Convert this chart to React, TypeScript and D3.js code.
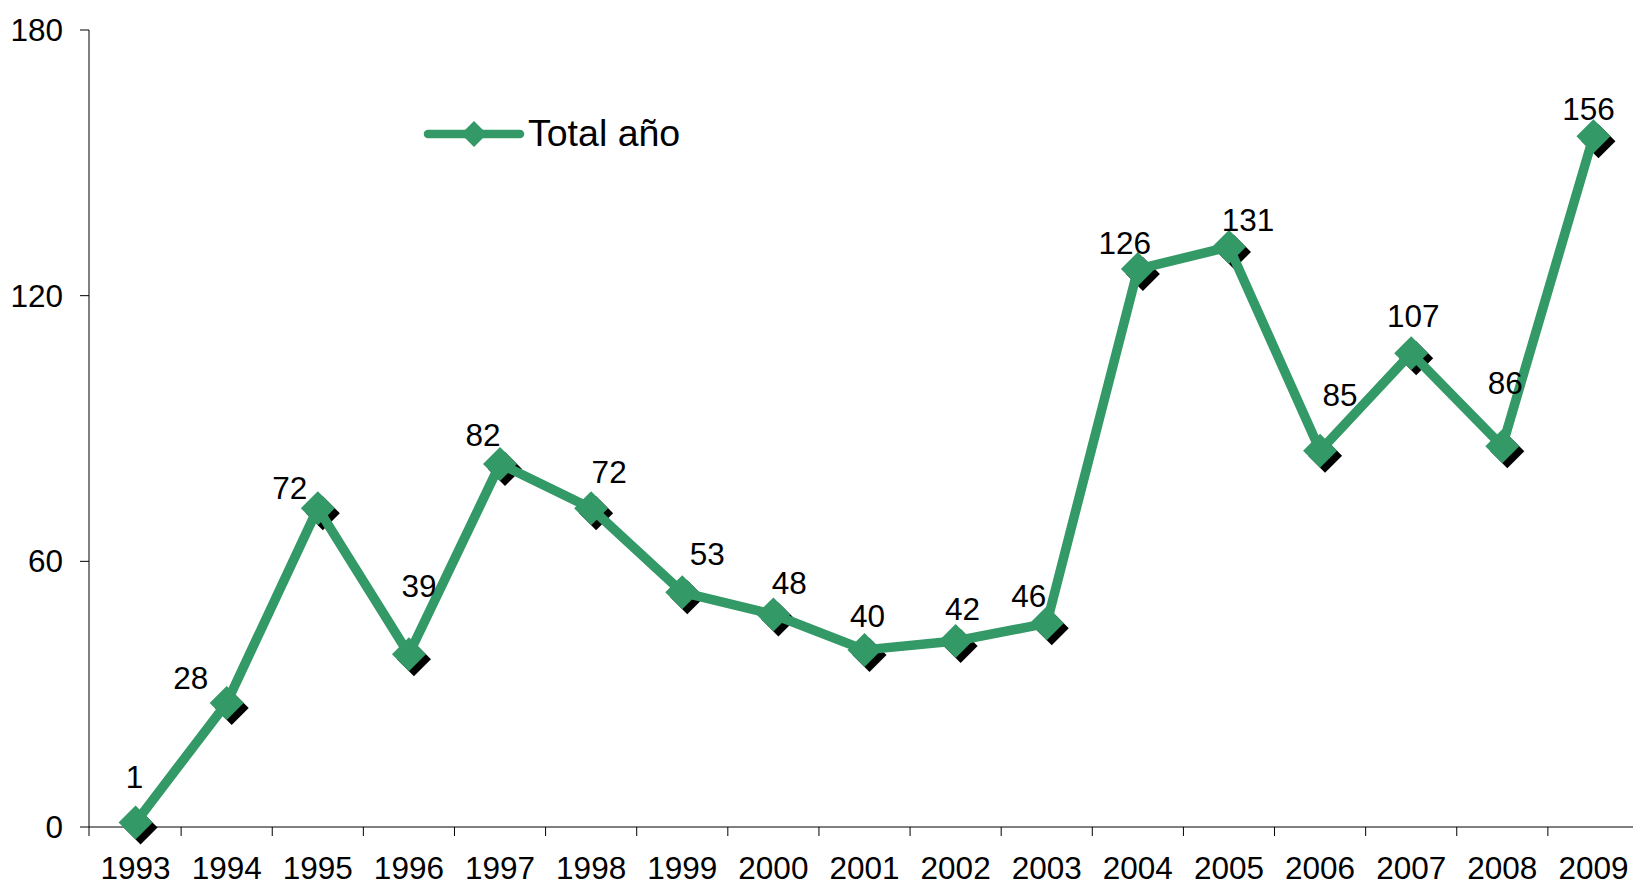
import React from "react";
import * as d3 from "d3";

const years = ["1993","1994","1995","1996","1997","1998","1999","2000","2001","2002","2003","2004","2005","2006","2007","2008","2009"];
const totals = [1,28,72,39,82,72,53,48,40,42,46,126,131,85,107,86,156];
const yTicks = [0,60,120,180];
const seriesName = "Total año";

// label offsets (layout only) relative to marker centre
const labelDx = [-1,-36,-28,10,-17,18,25,16,3,7,-18,-13,19,20,2,3,-5];
const labelDy = [-46,-25,-20,-68,-29,-36,-38,-31,-34,-32,-27,-26,-27,-56,-37,-63,-27];

const W = 1633, H = 887;
const left = 89, top = 30, bottom = 827;
const GREEN = "#339966";
const FONT = "'Liberation Sans', Arial, sans-serif";

export default function App() {
  const x = d3.scaleBand<string>().domain(years).range([90, 1639]).padding(0);
  const y = d3.scaleLinear().domain([0, 180]).range([bottom, top]);
  const cx = (i: number) => (x(years[i]) as number) + x.bandwidth() / 2;
  const line = d3.line<number>().x((_, i) => cx(i)).y((d) => y(d));
  const r = 17;
  const sh = 5;
  const diamond = (px: number, py: number, s: number) =>
    `M${px},${py - s}L${px + s},${py}L${px},${py + s}L${px - s},${py}Z`;
  const boundaries = years.slice(1).map((yr) => x(yr) as number);

  return (
    <svg width={W} height={H} style={{ position: "absolute", left: 0, top: 0, background: "#fff" }} fontFamily={FONT}>
      {/* axes */}
      <line x1={left} x2={left} y1={top} y2={bottom + 9} stroke="#000" strokeWidth={1} />
      <line x1={left} x2={W} y1={bottom} y2={bottom} stroke="#000" strokeWidth={1} />
      {yTicks.map((t) => (
        <g key={t}>
          <line x1={left - 9} x2={left} y1={y(t)} y2={y(t)} stroke="#000" />
          <text x={63} y={y(t)} textAnchor="end" dominantBaseline="central" fontSize={31.5} fill="#000">{t}</text>
        </g>
      ))}
      {boundaries.map((b, i) => (
        <line key={i} x1={b} x2={b} y1={bottom} y2={bottom + 9} stroke="#000" />
      ))}
      {years.map((yr, i) => (
        <text key={yr} x={cx(i)} y={879} textAnchor="middle" fontSize={31.5} fill="#000">{yr}</text>
      ))}
      {/* series */}
      {totals.map((v, i) => (
        <path key={"s" + i} d={diamond(cx(i) + sh, y(v) + sh, r)} fill="#000" />
      ))}
      <path d={line(totals) || ""} fill="none" stroke={GREEN} strokeWidth={9.5} strokeLinejoin="round" />
      {totals.map((v, i) => (
        <path key={"m" + i} d={diamond(cx(i), y(v), r)} fill={GREEN} />
      ))}
      {totals.map((v, i) => (
        <text key={"l" + i} x={cx(i) + labelDx[i]} y={y(v) + labelDy[i]} textAnchor="middle" dominantBaseline="central" fontSize={31.5} fill="#000">{v}</text>
      ))}
      {/* legend */}
      <line x1={428} x2={520} y1={134} y2={134} stroke={GREEN} strokeWidth={8.5} strokeLinecap="round" />
      <path d={diamond(474, 134, 13)} fill={GREEN} />
      <text x={528} y={146} fontSize={37.5} fill="#000">{seriesName}</text>
    </svg>
  );
}
